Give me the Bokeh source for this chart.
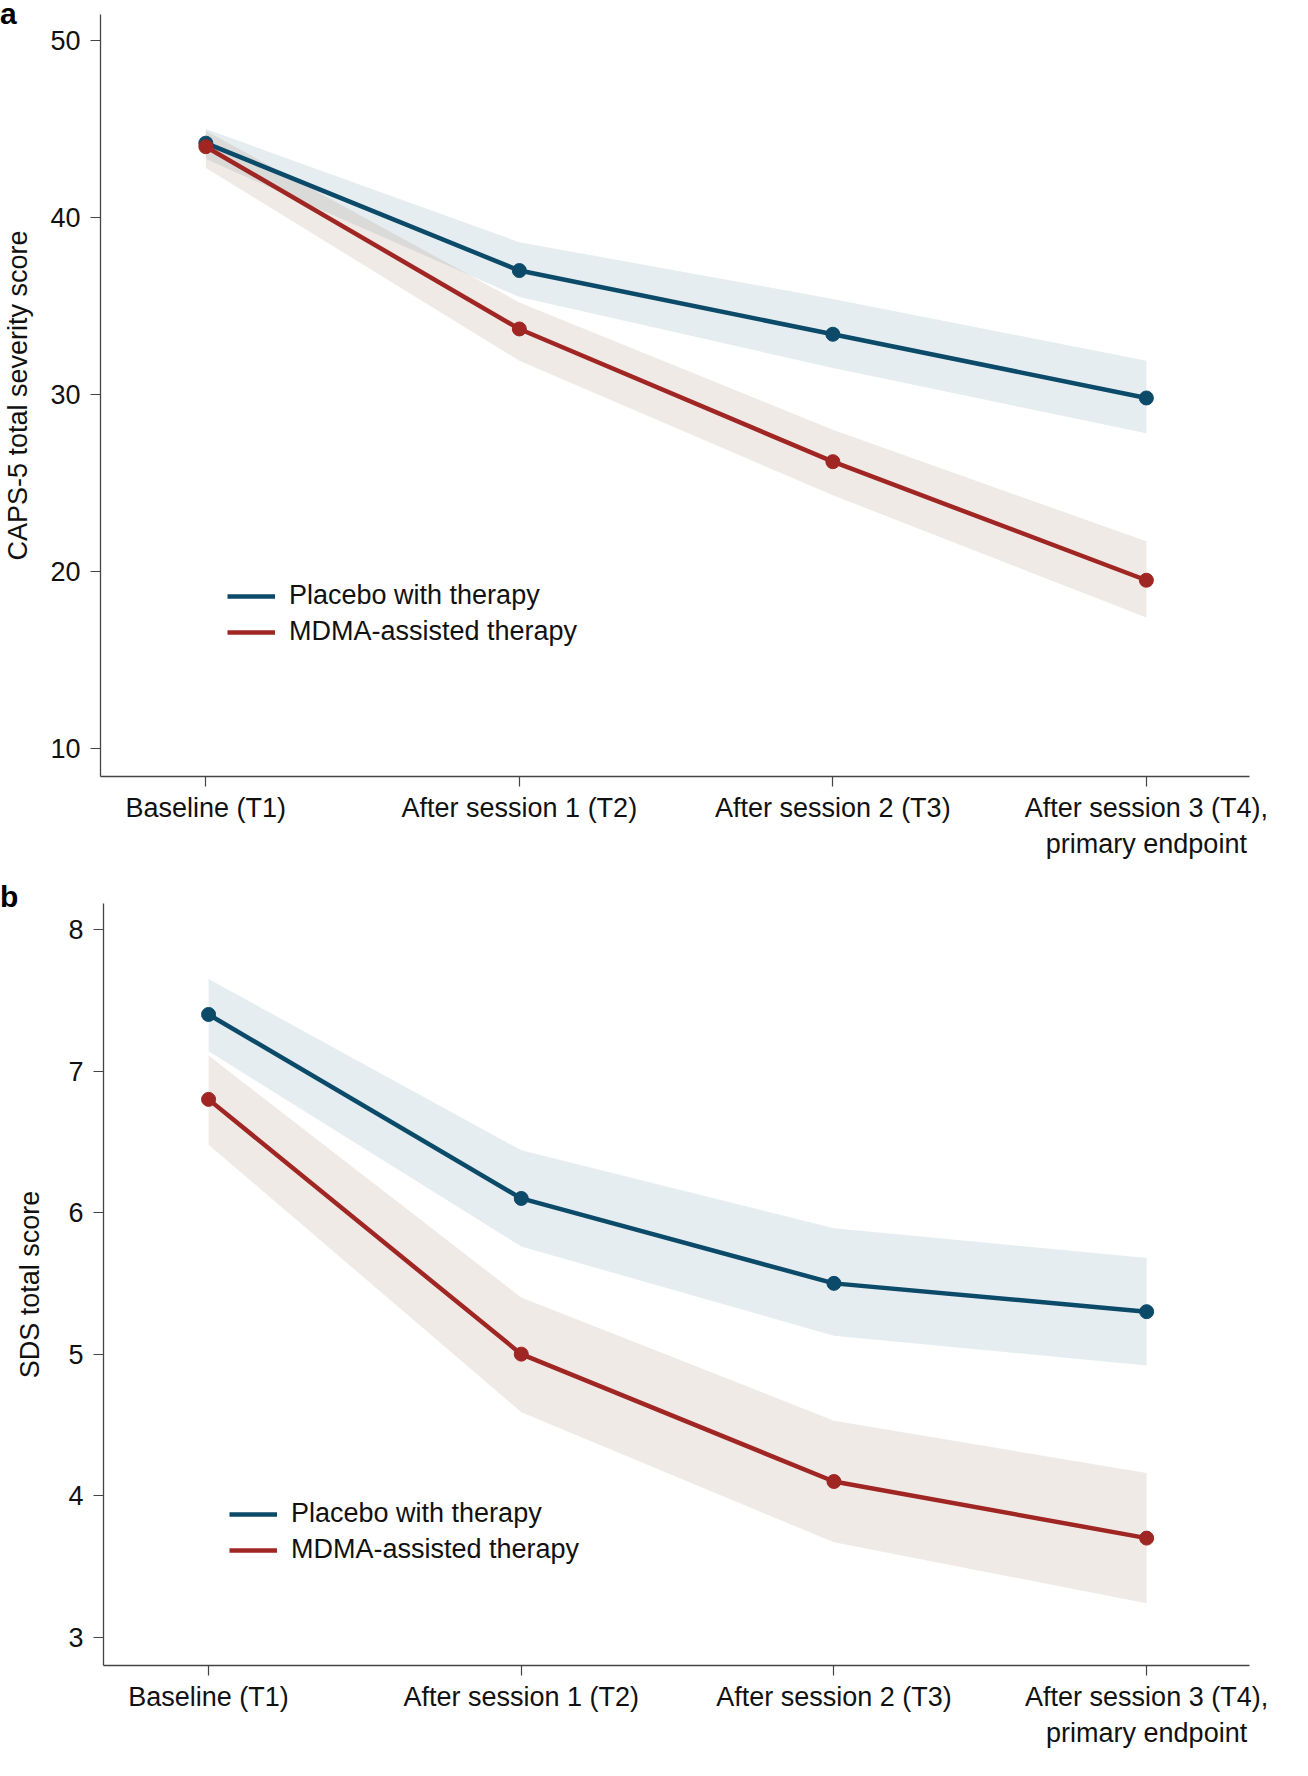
from bokeh.plotting import figure
from bokeh.layouts import column
from bokeh.models import FixedTicker, Legend, LegendItem, Range1d, Div
from bokeh.embed import file_html
from bokeh.resources import INLINE

timepoints = ["Baseline (T1)", "After session 1 (T2)", "After session 2 (T3)",
              "After session 3 (T4),\nprimary endpoint"]

# Panel a: CAPS-5 total severity score
caps_placebo = [44.2, 37.0, 33.4, 29.8]
caps_placebo_lo = [43.3, 35.5, 31.5, 27.8]
caps_placebo_hi = [45.0, 38.6, 35.4, 31.9]
caps_mdma = [44.0, 33.7, 26.2, 19.5]
caps_mdma_lo = [42.8, 31.9, 24.3, 17.4]
caps_mdma_hi = [44.9, 35.2, 28.0, 21.7]
caps_ticks = [10, 20, 30, 40, 50]

# Panel b: SDS total score
sds_placebo = [7.4, 6.1, 5.5, 5.3]
sds_placebo_lo = [7.14, 5.76, 5.13, 4.92]
sds_placebo_hi = [7.65, 6.44, 5.89, 5.68]
sds_mdma = [6.8, 5.0, 4.1, 3.7]
sds_mdma_lo = [6.48, 4.59, 3.67, 3.24]
sds_mdma_hi = [7.11, 5.40, 4.53, 4.16]
sds_ticks = [3, 4, 5, 6, 7, 8]

series_names = ["Placebo with therapy", "MDMA-assisted therapy"]
panel_letters = ["a", "b"]

BLUE = "#0b4a68"
RED = "#a02624"
BAND_BLUE = "#2f6982"
BAND_RED = "#825037"
FONT = "Liberation Sans"
FS = "27px"


def make_panel(ylabel, yticks, yrange, placebo, p_lo, p_hi, mdma, m_lo, m_hi,
               width, height, border_left, border_right, border_bottom,
               legend_loc, label_standoff, shift):
    xs = list(range(len(timepoints)))
    p = figure(width=width, height=height, output_backend="svg", toolbar_location=None,
               x_range=Range1d(-0.336, 3.329), y_range=Range1d(*yrange),
               min_border_left=border_left, min_border_right=border_right,
               min_border_top=0, min_border_bottom=border_bottom,
               margin=(0, 0, 0, shift))
    p.outline_line_color = None
    p.xgrid.visible = False
    p.ygrid.visible = False
    p.background_fill_color = "white"
    p.border_fill_alpha = 0

    p.varea(x=xs, y1=p_lo, y2=p_hi, fill_color=BAND_BLUE, fill_alpha=0.12)
    p.varea(x=xs, y1=m_lo, y2=m_hi, fill_color=BAND_RED, fill_alpha=0.12)
    r1 = p.line(xs, placebo, line_color=BLUE, line_width=4.5)
    p.scatter(xs, placebo, size=14, fill_color=BLUE, line_color=BLUE)
    r2 = p.line(xs, mdma, line_color=RED, line_width=4.5)
    p.scatter(xs, mdma, size=14, fill_color=RED, line_color=RED)

    for ax in (p.xaxis, p.yaxis):
        ax.axis_line_color = "#444444"
        ax.axis_line_width = 1.3
        ax.major_tick_line_color = "#444444"
        ax.major_tick_line_width = 1.2
        ax.major_tick_out = 10
        ax.major_tick_in = 0
        ax.minor_tick_line_color = None
        ax.major_label_text_font = FONT
        ax.major_label_text_font_size = FS
        ax.major_label_text_color = "#111111"

    p.xaxis.ticker = FixedTicker(ticks=xs)
    p.xaxis.major_label_overrides = {i: t for i, t in enumerate(timepoints)}
    p.xaxis.major_label_standoff = 6
    p.yaxis.ticker = FixedTicker(ticks=yticks)
    p.yaxis.major_label_standoff = 10
    p.yaxis.axis_label = ylabel
    p.yaxis.axis_label_text_font = FONT
    p.yaxis.axis_label_text_font_size = FS
    p.yaxis.axis_label_text_font_style = "normal"
    p.yaxis.axis_label_text_color = "#111111"
    p.yaxis.axis_label_standoff = label_standoff

    legend = Legend(items=[LegendItem(label=series_names[0], renderers=[r1]),
                           LegendItem(label=series_names[1], renderers=[r2])],
                    location=legend_loc, orientation="vertical")
    legend.background_fill_alpha = 0
    legend.border_line_color = None
    legend.padding = 0
    legend.margin = 0
    legend.spacing = 5
    legend.glyph_width = 48
    legend.glyph_height = 30
    legend.label_height = 30
    legend.label_standoff = 14
    legend.label_text_font = FONT
    legend.label_text_font_size = FS
    legend.label_text_color = "#111111"
    p.add_layout(legend, "center")
    return p


def letter_div(letter, h, lh):
    return Div(text=letter, width=60, height=h, margin=0,
               styles={"font-size": "30px", "font-weight": "bold",
                       "font-family": FONT, "line-height": f"{lh}px",
                       "overflow": "visible", "color": "#000000",
                       "position": "relative", "z-index": "5"})


pa = make_panel("CAPS-5 total severity score", caps_ticks, (8.41, 51.47),
                caps_placebo, caps_placebo_lo, caps_placebo_hi,
                caps_mdma, caps_mdma_lo, caps_mdma_hi,
                width=1292, height=876, border_left=92, border_right=43,
                border_bottom=114, legend_loc=(127, 129), label_standoff=14, shift=0)
pb = make_panel("SDS total score", sds_ticks, (2.80, 8.184),
                sds_placebo, sds_placebo_lo, sds_placebo_hi,
                sds_mdma, sds_mdma_lo, sds_mdma_hi,
                width=1289, height=865, border_left=92, border_right=40,
                border_bottom=103, legend_loc=(126, 100), label_standoff=20, shift=3)

layout = column(letter_div(panel_letters[0], 14, 27), pa,
                letter_div(panel_letters[1], 13, 13), pb)
open("out.html", "w").write(file_html(layout, INLINE))
